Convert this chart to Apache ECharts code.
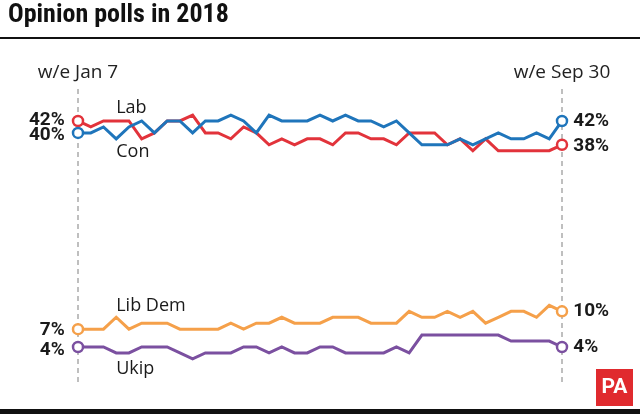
<!DOCTYPE html>
<html><head><meta charset="utf-8">
<script src="https://cdn.jsdelivr.net/npm/echarts@6/dist/echarts.min.js"></script>
<style>html,body{margin:0;padding:0;background:#fff}#c{width:640px;height:414px}</style>
</head><body><div id="c"></div>
<script>
const weeks = ['Jan 7','Jan 14','Jan 21','Jan 28','Feb 4','Feb 11','Feb 18','Feb 25','Mar 4','Mar 11','Mar 18','Mar 25','Apr 1','Apr 8','Apr 15','Apr 22','Apr 29','May 6','May 13','May 20','May 27','Jun 3','Jun 10','Jun 17','Jun 24','Jul 1','Jul 8','Jul 15','Jul 22','Jul 29','Aug 5','Aug 12','Aug 19','Aug 26','Sep 2','Sep 9','Sep 16','Sep 23','Sep 30'];
const lab    = [42,41,42,42,42,39,40,42,42,43, 40,40,39,41,40,38,39,38,39,39, 38,40,40,39,39,38,40,40,40,38, 39,37,39,37,37,37,37,37,38];
const con    = [40,40,41,39,41,42,40,42,42,40, 42,42,43,42,40,43,42,42,42,43, 42,43,42,42,41,42,40,38,38,38, 39,38,39,40,39,39,40,39,42];
const libDem = [7,7,7,9,7,8,8,8,7,7, 7,7,8,7,8,8,9,8,8,8, 9,9,9,8,8,8,10,9,9,10, 9,10,8,9,10,10,9,11,10];
const ukip   = [4,4,4,3,3,4,4,4,3,2, 3,3,3,4,4,3,4,3,3,4, 4,3,3,3,3,4,3,6,6,6, 6,6,6,6,5,5,5,5,4];
const title = 'Opinion polls in 2018';
const weekPrefix = 'w/e ';

const defs = [
  {name:'Lab', data:lab, color:'#e2333b', nameAt:[3,44.2]},
  {name:'Con', data:con, color:'#1f75bb', nameAt:[3,36.8]},
  {name:'Lib Dem', data:libDem, color:'#f5a04a', nameAt:[3,10.9]},
  {name:'Ukip', data:ukip, color:'#7b50a0', nameAt:[3,0.4]}
];
const labelOffsets = {Lab:[0,-1,0,1], Con:[0,2,0,0], 'Lib Dem':[0,1,0,0], Ukip:[0,3,0,0]};

const chart = echarts.init(document.getElementById('c'), null, {renderer:'canvas'});
const last = weeks.length - 1;
const pctFont = {fontFamily:'Roboto', fontWeight:'bold', fontSize:19, color:'#1a1a1a'};

const series = defs.map(d => ({
  name: d.name, type:'line', data: d.data.map((v,i) => {
    if (i === 0) return {value:v, label:{show:true, position:'left', distance:7, formatter:'{c}%', offset:[0,labelOffsets[d.name][1]], ...pctFont}};
    if (i === last) return {value:v, label:{show:true, position:'right', distance:5, formatter:'{c}%', offset:[0,labelOffsets[d.name][3]], ...pctFont}};
    return v;
  }),
  symbol: (val, p) => (p.dataIndex === 0 || p.dataIndex === last) ? 'circle' : 'none',
  symbolSize: 10, showSymbol:true,
  lineStyle:{color:d.color, width:3, join:'miter'},
  itemStyle:{color:'#fff', borderColor:d.color, borderWidth:2.5},
  emphasis:{disabled:true}, animation:false, z: 3
}));

chart.setOption({
  animation:false,
  grid:{left:78, right:78, top:73.4, bottom:43.2, containLabel:false},
  xAxis:{type:'category', data:weeks, boundaryGap:false, position:'top',
    axisLine:{show:false}, axisTick:{show:false}, splitLine:{show:false},
    axisLabel:{show:true, interval:(i)=> i===0 || i===last, margin:1,
      verticalAlign:'middle', formatter:(v)=>weekPrefix+v,
      fontFamily:'Open Sans', fontSize:19, color:'#222', showMinLabel:true, showMaxLabel:true, hideOverlap:false}},
  yAxis:{type:'value', min:0, max:50, show:false},
  series: series
});

function pix(a){ return chart.convertToPixel({xAxisIndex:0, yAxisIndex:0}, a); }
const g = [];
g.push({type:'text', left:8, top:2, style:{text:title, fontFamily:"'Liberation Sans Narrow', 'Roboto Condensed', Roboto", fontWeight:'bold', fontSize:26, fill:'#111'}});
g.push({type:'rect', shape:{x:0, y:37, width:640, height:2}, style:{fill:'#111'}});
g.push({type:'rect', shape:{x:0, y:409, width:640, height:5}, style:{fill:'#111'}});
[0,last].forEach(i => {
  const x = pix([i,0])[0];
  g.push({type:'line', shape:{x1:x, y1:89, x2:x, y2:385}, style:{stroke:'#aaaaaa', lineWidth:1.5, lineDash:[5,4]}, z:1});
});
defs.forEach(d => {
  const p = pix(d.nameAt);
  g.push({type:'text', x:p[0], y:p[1], style:{text:d.name, fontFamily:'Open Sans', fontSize:18, fill:'#1a1a1a', align:'left', verticalAlign:'middle'}, z:5});
});
g.push({type:'rect', shape:{x:596, y:369, width:37, height:37}, style:{fill:'#e02a2e'}});
g.push({type:'text', x:614.5, y:388, style:{text:'PA', fontFamily:"'Liberation Sans Narrow', Roboto", fontWeight:'bold', fontSize:21, fill:'#fff', align:'center', verticalAlign:'middle'}});
chart.setOption({graphic:g});
</script></body></html>
